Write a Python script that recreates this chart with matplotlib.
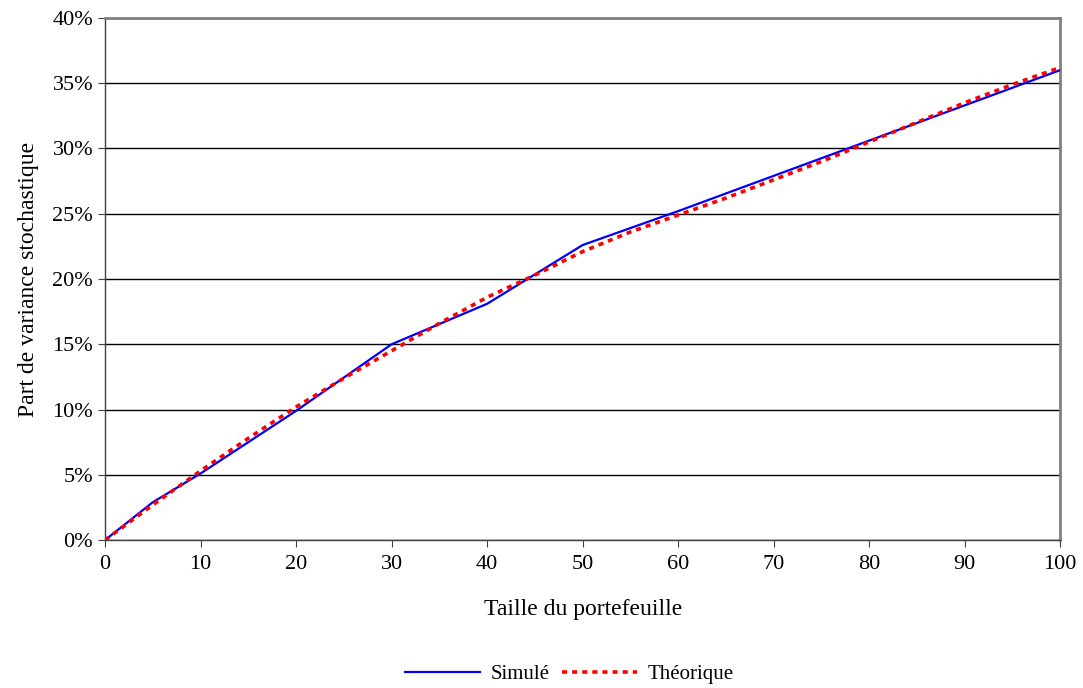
import matplotlib

matplotlib.use("Agg")
import matplotlib.pyplot as plt
from matplotlib.ticker import FuncFormatter

plt.rcParams["font.family"] = ["Liberation Serif", "DejaVu Serif"]

# Simulated series (piecewise linear)
sim_x = [0, 5, 10, 20, 30, 40, 50, 60, 70, 80, 90, 100]
sim_y = [0.0, 2.9, 5.1, 9.9, 15.0, 18.1, 22.6, 25.2, 27.9, 30.6, 33.3, 36.0]

# Theoretical series
theo_x = [0, 5, 10, 15, 20, 25, 30, 35, 40, 45, 50, 55, 60, 65, 70, 75, 80, 85, 90, 95, 100]
theo_y = [0.0, 2.7, 5.3, 7.8, 10.2, 12.4, 14.5, 16.6, 18.6, 20.3, 22.1, 23.6, 24.9, 26.2, 27.6, 29.0,
          30.5, 32.0, 33.5, 34.9, 36.2]

fig = plt.figure(figsize=(10.83, 6.88), dpi=100)
ax = fig.add_axes([0.097, 0.215, 0.882, 0.759])

ax.plot(sim_x, sim_y, color="#0000ff", lw=1.6, label="Simulé", zorder=3)
ax.plot(theo_x, theo_y, color="#ff0000", lw=2.6, linestyle=(0, (1.4, 1.4)), label="Théorique", zorder=4)

ax.set_xlim(0, 100)
ax.set_ylim(0, 40)
ax.set_xticks(range(0, 101, 10))
ax.set_yticks(range(0, 41, 5))
ax.yaxis.set_major_formatter(FuncFormatter(lambda v, _: f"{v:.0f}%"))
ax.yaxis.grid(True, color="black", lw=1.0)
ax.set_axisbelow(True)
ax.tick_params(axis="both", labelsize=16, direction="out", length=5, color="#404040")
ax.tick_params(axis="x", pad=6)

for side in ("top", "right"):
    ax.spines[side].set_color("#808080")
    ax.spines[side].set_linewidth(2)
for side in ("left", "bottom"):
    ax.spines[side].set_color("#404040")
    ax.spines[side].set_linewidth(1)

ax.set_xlabel("Taille du portefeuille", fontsize=17, labelpad=18)
ax.set_ylabel("Part de variance stochastique", fontsize=17, labelpad=10)

fig.legend(loc="lower center", bbox_to_anchor=(0.526, -0.022), ncol=2, frameon=False,
           fontsize=15, handlelength=3.6, columnspacing=0.6, handletextpad=0.5)

fig.savefig("out.png", dpi=100)
plt.close(fig)
